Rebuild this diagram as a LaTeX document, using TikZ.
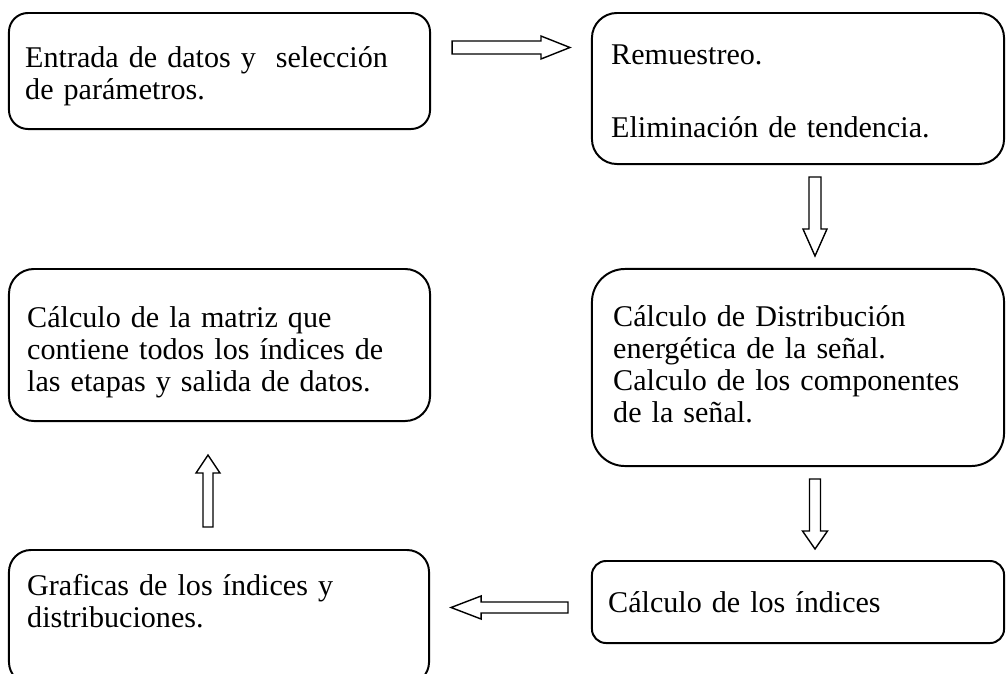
\documentclass[tikz,border=0pt]{standalone}
\usepackage{fontspec}
\setmainfont{Liberation Serif}
\usetikzlibrary{calc}
\tikzset{
  box/.style = {draw=black,fill=white,line width=1.4pt,inner sep=0pt,outer sep=0pt},
  boxtext/.style = {anchor=base west,inner sep=0pt,text width=10cm,align=left,
    font=\fontsize{21.4}{22.75}\selectfont},
  %
  arr gap start/.store in=\arrGapStart,
  arr gap end/.store in=\arrGapEnd,
  arr head len/.store in=\arrHeadLen,
  arr shaft/.store in=\arrShaft,
  arr head/.store in=\arrHead,
  blockarrow/.style = {draw=black,fill=white,line width=1pt,line join=miter,
    to path={
      let \p1=($(\tikztostart)!\arrGapStart*0.025cm!(\tikztotarget)$),
          \p2=($(\tikztotarget)!\arrGapEnd*0.025cm!(\tikztostart)$),
          \p3=($(\p2)!\arrHeadLen*0.025cm!(\p1)$)
      in ($(\p1)!\arrShaft*0.025cm!90:(\p2)$)
      -- ($(\p3)!\arrShaft*0.025cm!90:(\p2)$)
      -- ($(\p3)!\arrHead*0.025cm!90:(\p2)$)
      -- (\p2)
      -- ($(\p3)!\arrHead*0.025cm!-90:(\p2)$)
      -- ($(\p3)!\arrShaft*0.025cm!-90:(\p2)$)
      -- ($(\p1)!\arrShaft*0.025cm!-90:(\p2)$)
      -- cycle}},
}

\begin{document}
\begin{tikzpicture}[x=0.025cm,y=-0.025cm]
    \useasboundingbox (0,0) rectangle (1006,673);

    \node[box,minimum width=10.525cm,minimum height=2.9cm,rounded corners=0.475cm] at (219.5,71) (entrada) {};
    \node[box,minimum width=10.3cm,minimum height=3.775cm,rounded corners=0.625cm] at (798,88.5) (remuestreo) {};
    \node[box,minimum width=10.3cm,minimum height=4.925cm,rounded corners=0.825cm] at (798,367.5) (distrib) {};
    \node[box,minimum width=10.3cm,minimum height=2.05cm,rounded corners=0.35cm] at (798,602) (indices) {};
    \node[box,minimum width=10.5cm,minimum height=3.35cm,rounded corners=0.55cm] at (219,617) (graficas) {};
    \node[box,minimum width=10.525cm,minimum height=3.8cm,rounded corners=0.625cm] at (219.5,345) (matriz) {};

    \node[boxtext] at ($(entrada.north west)+(16,55)$) (entrada-txt) {Entrada de datos y\ \ selección\\de parámetros.};
    \node[boxtext] at ($(remuestreo.north west)+(19,52)$) (remuestreo-txt) {Remuestreo.\\[29.15pt]Eliminación de tendencia.};
    \node[boxtext] at ($(distrib.north west)+(21,58)$) (distrib-txt) {Cálculo de Distribución\\energética de la señal.\\Calculo de los componentes\\de la señal.};
    \node[boxtext] at ($(indices.north west)+(16,51)$) (indices-txt) {Cálculo de los índices};
    \node[boxtext] at ($(graficas.north west)+(18,46)$) (graficas-txt) {Graficas de los índices y\\distribuciones.};
    \node[boxtext] at ($(matriz.north west)+(18,59)$) (matriz-txt) {Cálculo de la matriz que\\contiene todos los índices de\\las etapas y salida de datos.};

    \draw[blockarrow,arr gap start=22,arr gap end=22,arr head len=29,arr shaft=6.5,arr head=11.5]
        ($(entrada.east)+(0,-23.5)$) to ($(remuestreo.west)+(0,-41)$);
    \draw[blockarrow,arr gap start=13,arr gap end=13,arr head len=27,arr shaft=6,arr head=12]
        ($(remuestreo.south)+(17,0)$) to ($(distrib.north)+(17,0)$);
    \draw[blockarrow,arr gap start=13,arr gap end=12,arr head len=18,arr shaft=5.5,arr head=12.5]
        ($(distrib.south)+(17,0)$) to ($(indices.north)+(17,0)$);
    \draw[blockarrow,arr gap start=24,arr gap end=22,arr head len=30,arr shaft=5.5,arr head=11.5]
        ($(indices.west)+(0,5.5)$) to ($(graficas.east)+(0,-9.5)$);
    \draw[blockarrow,arr gap start=23,arr gap end=34,arr head len=18,arr shaft=5,arr head=12]
        ($(graficas.north)+(-11,0)$) to ($(matriz.south)+(-11.5,0)$);

\end{tikzpicture}
\end{document}
